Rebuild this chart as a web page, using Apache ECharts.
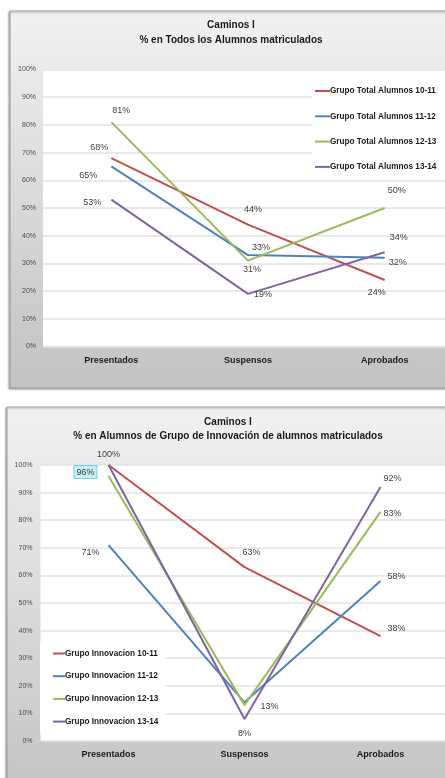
<!DOCTYPE html>
<html>
<head>
<meta charset="utf-8">
<script src="https://cdn.jsdelivr.net/npm/echarts@6/dist/echarts.min.js"></script>
<style>
html,body{margin:0;padding:0;overflow:hidden;background:#fff;}
#c{width:445px;height:778px;}
</style>
</head>
<body>
<div id="c"></div>
<script>
var categories = ['Presentados', 'Suspensos', 'Aprobados'];
var yTicks = [0, 10, 20, 30, 40, 50, 60, 70, 80, 90, 100];

var totalNames = ['Grupo Total Alumnos 10-11', 'Grupo Total Alumnos 11-12', 'Grupo Total Alumnos 12-13', 'Grupo Total Alumnos 13-14'];
var total1011 = [68, 44, 24];
var total1112 = [65, 33, 32];
var total1213 = [81, 31, 50];
var total1314 = [53, 19, 34];

var innovNames = ['Grupo Innovacion 10-11', 'Grupo Innovacion 11-12', 'Grupo Innovacion 12-13', 'Grupo Innovacion 13-14'];
var innov1011 = [100, 63, 38];
var innov1112 = [71, 14, 58];
var innov1213 = [96, 13, 83];
var innov1314 = [100, 8, 92];

// label offsets (styling, separate from data); null = no label
var offTotal = [
  [[-12, -11], [5, -15], [-8, 12]],
  [[-23, 9], [13, -8], [13, 5]],
  [[10, -12], [4, 9], [12, -17]],
  [[-19, 3], [15, 1], [14, -15]]
];
var offInnov = [
  [null, [7, -15], [16, -8]],
  [[-18, 7], null, [16, -4]],
  [[-23, -4], [25, 1], [12, 2]],
  [[0, -10], [0, 15], [12, -9]]
];

var colors = ['#c0504d', '#4f81bd', '#9bbb59', '#8064a2'];
var FONT = 'Liberation Sans';

function buildData(vals, offs, boxed) {
  return vals.map(function (v, i) {
    var o = offs[i];
    var lbl = {show: false};
    if (o) {
      lbl = {
        show: true, position: 'inside', offset: o,
        formatter: Math.round(v) + '%',
        fontSize: 9, color: '#404040', fontFamily: FONT
      };
      if (boxed && boxed[i]) {
        lbl.backgroundColor = '#c8eef8';
        lbl.borderColor = '#7ccfe6';
        lbl.borderWidth = 1;
        lbl.padding = [2, 2, 1, 2];
      }
    }
    return {value: v, label: lbl};
  });
}

var series = [];
var totals = [total1011, total1112, total1213, total1314];
var innovs = [innov1011, innov1112, innov1213, innov1314];
for (var s = 0; s < 4; s++) {
  series.push({
    name: totalNames[s], type: 'line', xAxisIndex: 0, yAxisIndex: 0,
    data: buildData(totals[s], offTotal[s]),
    symbol: 'circle', symbolSize: 0.1, showSymbol: true,
    lineStyle: {color: colors[s], width: 2}, itemStyle: {color: colors[s]},
    emphasis: {disabled: true}, z: 3
  });
}
for (var s2 = 0; s2 < 4; s2++) {
  series.push({
    name: innovNames[s2], type: 'line', xAxisIndex: 1, yAxisIndex: 1,
    data: buildData(innovs[s2], offInnov[s2], s2 === 2 ? [true, false, false] : null),
    symbol: 'circle', symbolSize: 0.1, showSymbol: true,
    lineStyle: {color: colors[s2], width: 2}, itemStyle: {color: colors[s2]},
    emphasis: {disabled: true}, z: 3
  });
}

function yAxis(gi, margin) {
  return {
    type: 'value', gridIndex: gi, min: 0, max: 100, interval: 10,
    axisLine: {show: false}, axisTick: {show: false},
    axisLabel: {formatter: '{value}%', fontSize: 7, color: '#4a4a4a', margin: margin, fontFamily: FONT},
    splitLine: {show: true, lineStyle: {color: '#e2e2e2', width: 1.5}}
  };
}
function xAxis(gi, margin) {
  return {
    type: 'category', gridIndex: gi, data: categories, boundaryGap: true,
    axisLine: {show: false}, axisTick: {show: false},
    axisLabel: {fontSize: 9, fontWeight: 'bold', color: '#1a1a1a', margin: margin, fontFamily: FONT}
  };
}

var frameGrad = function () {
  return new echarts.graphic.LinearGradient(0, 0, 0, 1, [
    {offset: 0, color: '#f1f1f1'}, {offset: 1, color: '#c2c2c2'}
  ]);
};

var option = {
  animation: false,
  backgroundColor: '#ffffff',
  graphic: [
    {type: 'rect', z: -100, shape: {x: 10, y: 11, width: 450, height: 377},
      style: {fill: frameGrad(), stroke: '#a3a3a3', lineWidth: 1,
        shadowColor: 'rgba(0,0,0,0.35)', shadowBlur: 2, shadowOffsetX: -1, shadowOffsetY: 1}},
    {type: 'rect', z: -100, shape: {x: 7, y: 407, width: 450, height: 400},
      style: {fill: frameGrad(), stroke: '#a3a3a3', lineWidth: 1,
        shadowColor: 'rgba(0,0,0,0.35)', shadowBlur: 2, shadowOffsetX: -1, shadowOffsetY: 1}}
  ],
  title: [
    {text: 'Caminos I\n% en Todos los Alumnos matriculados', left: 231, top: 18, textAlign: 'center', padding: 0,
      textStyle: {fontSize: 10, fontWeight: 'bold', color: '#1a1a1a', lineHeight: 14.5, fontFamily: FONT}},
    {text: 'Caminos I\n% en Alumnos de Grupo de Innovación de alumnos matriculados', left: 228, top: 414.5, textAlign: 'center', padding: 0,
      textStyle: {fontSize: 10, fontWeight: 'bold', color: '#1a1a1a', lineHeight: 14.5, fontFamily: FONT}}
  ],
  legend: [
    {data: totalNames, orient: 'vertical', left: 312, top: 80, itemGap: 15.3,
      icon: 'rect', itemWidth: 15, itemHeight: 2, backgroundColor: '#ffffff',
      padding: [6, 30, 6, 3], selectedMode: false,
      textStyle: {fontSize: 8.2, fontWeight: 'bold', color: '#1a1a1a', lineHeight: 10, padding: [0, 0, 0, -5], fontFamily: FONT}},
    {data: innovNames, orient: 'vertical', left: 40, top: 642.5, itemGap: 12.7,
      icon: 'rect', itemWidth: 12, itemHeight: 2, backgroundColor: '#ffffff',
      padding: [6, 8, 6, 13], selectedMode: false,
      textStyle: {fontSize: 8.2, fontWeight: 'bold', color: '#1a1a1a', lineHeight: 10, padding: [0, 0, 0, -5], fontFamily: FONT}}
  ],
  grid: [
    {left: 43, top: 69.5, width: 410, height: 277, show: true, backgroundColor: '#ffffff', borderWidth: 0, outerBoundsMode: 'none', containLabel: false},
    {left: 40.5, top: 465, width: 408, height: 276, show: true, backgroundColor: '#ffffff', borderWidth: 0, outerBoundsMode: 'none', containLabel: false}
  ],
  xAxis: [xAxis(0, 10), xAxis(1, 9)],
  yAxis: [yAxis(0, 7), yAxis(1, 8)],
  series: series
};

var chart = echarts.init(document.getElementById('c'), null, {renderer: 'canvas'});
chart.setOption(option);
</script>
</body>
</html>
